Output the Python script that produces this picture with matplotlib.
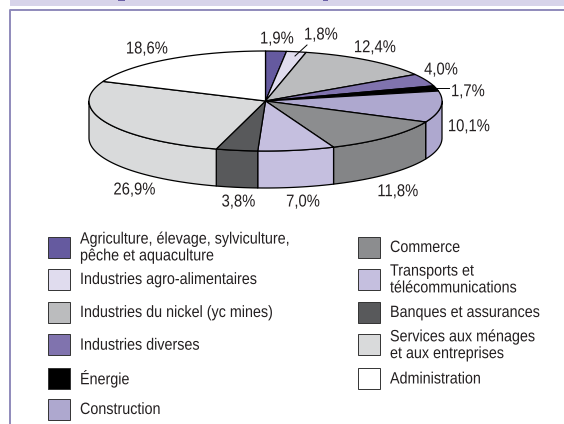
import numpy as np
import matplotlib
matplotlib.use("Agg")
import matplotlib.pyplot as plt
from matplotlib.patches import Polygon, Rectangle
from matplotlib.patheffects import AbstractPathEffect
from matplotlib.transforms import Affine2D

# Values, clockwise from the top
valeurs = [1.9, 1.8, 12.4, 4.0, 1.7, 10.1, 11.8, 7.0, 3.8, 26.9, 18.6]
etiquettes = ["1,9%", "1,8%", "12,4%", "4,0%", "1,7%", "10,1%", "11,8%", "7,0%", "3,8%", "26,9%", "18,6%"]
couleurs = ["#655a9f", "#e0dcee", "#bbbcbe", "#8073ae", "#000000", "#aea8cf", "#8c8d8f", "#c5bfdf", "#58595b", "#d9dadb", "#ffffff"]
couleurs_cote = ["#655a9f", "#e0dcee", "#bbbcbe", "#8073ae", "#000000", "#aea8cf", "#848587", "#c5bfdf", "#58595b", "#d9dadb", "#ffffff"]
legende_g = ["Agriculture, élevage, sylviculture,\npêche et aquaculture", "Industries agro-alimentaires",
             "Industries du nickel (yc mines)", "Industries diverses", "Énergie", "Construction"]
legende_d = ["Commerce", "Transports et\ntélécommunications", "Banques et assurances",
             "Services aux ménages\net aux entreprises", "Administration"]

plt.rcParams['font.family'] = ['Liberation Sans', 'DejaVu Sans']
violet = "#8f8abb"


# No narrow font here: squeeze the glyphs around the text anchor
class Etroit(AbstractPathEffect):
    def __init__(self, x0, k):
        super().__init__()
        self.x0 = x0
        self.k = k

    def draw_path(self, renderer, gc, tpath, affine, rgbFace=None):
        serre = Affine2D().translate(-self.x0, 0).scale(self.k, 1).translate(self.x0, 0)
        renderer.draw_path(gc, tpath, affine + serre, rgbFace)


fig = plt.figure(figsize=(5.64, 4.24), dpi=100)
ax = fig.add_axes([0, 0, 1, 1])
ax.set_xlim(0, 564)
ax.set_ylim(424, 0)
ax.axis("off")

# Top band and frame
ax.add_patch(Rectangle((10, 0), 554, 6, fc="#d8d4ea", ec="none"))
ax.add_patch(Rectangle((118, 0), 7, 1.3, fc="#6a5fa5", ec="none"))
ax.add_patch(Rectangle((323, 0), 5, 1.3, fc="#6a5fa5", ec="none"))
ax.plot([9.8, 9.8, 564], [424, 9.5, 9.5], color=violet, lw=1.4)

cx, cy, rx, ry, ep = 265.5, 101, 176.5, 50, 37


def arc(a0, a1):
    t = np.radians(np.linspace(a0, a1, 60))
    return cx + rx * np.sin(t), cy - ry * np.cos(t)


bornes = np.concatenate([[0], np.cumsum(valeurs)]) * 3.6

# Sides, only the front half shows
for i in range(len(valeurs)):
    a0, a1 = max(bornes[i], 90), min(bornes[i + 1], 270)
    if a1 <= a0:
        continue
    x, y = arc(a0, a1)
    pts = np.concatenate([np.c_[x, y], np.c_[x[::-1], y[::-1] + ep]])
    ax.add_patch(Polygon(pts, fc=couleurs_cote[i], ec="black", lw=0.9, joinstyle="round"))

# Top face
for i in range(len(valeurs)):
    x, y = arc(bornes[i], bornes[i + 1])
    pts = np.concatenate([[[cx, cy]], np.c_[x, y]])
    ax.add_patch(Polygon(pts, fc=couleurs[i], ec="black", lw=0.9, joinstyle="round"))

# Percentages
pos_etiq = [(277, 39), (321, 35), (375, 47.7), (441, 70), (468, 91.7), (469, 126.7), (398, 191.7), (303, 202), (238.5, 202), (134.5, 190), (147, 49)]
for txt, (x, y) in zip(etiquettes, pos_etiq):
    ax.text(x, y, txt, fontsize=12.4, ha="center", va="center", color="#231f20",
            path_effects=[Etroit(x, 0.86)])
ax.plot([295, 307], [56, 45], color="black", lw=0.7)
ax.plot([432, 449], [87.5, 87.5], color="black", lw=0.7)


# Legend
def legende(noms, couls, x_carre, x_txt, ys):
    for nom, c, y in zip(noms, couls, ys):
        ax.add_patch(Rectangle((x_carre, y - 10.5), 22, 21, fc=c, ec="#333333", lw=0.7))
        ax.text(x_txt, y + 0.5, nom, fontsize=11.8, va="center", color="#231f20", linespacing=1.15,
                path_effects=[Etroit(x_txt, 0.875)])


legende(legende_g, couleurs[:6], 48, 80, [247, 279, 312, 344.7, 378, 409])
legende(legende_d, couleurs[6:], 358, 390, [247, 279, 312, 344.7, 378.5])

fig.savefig("out.png", dpi=100)
